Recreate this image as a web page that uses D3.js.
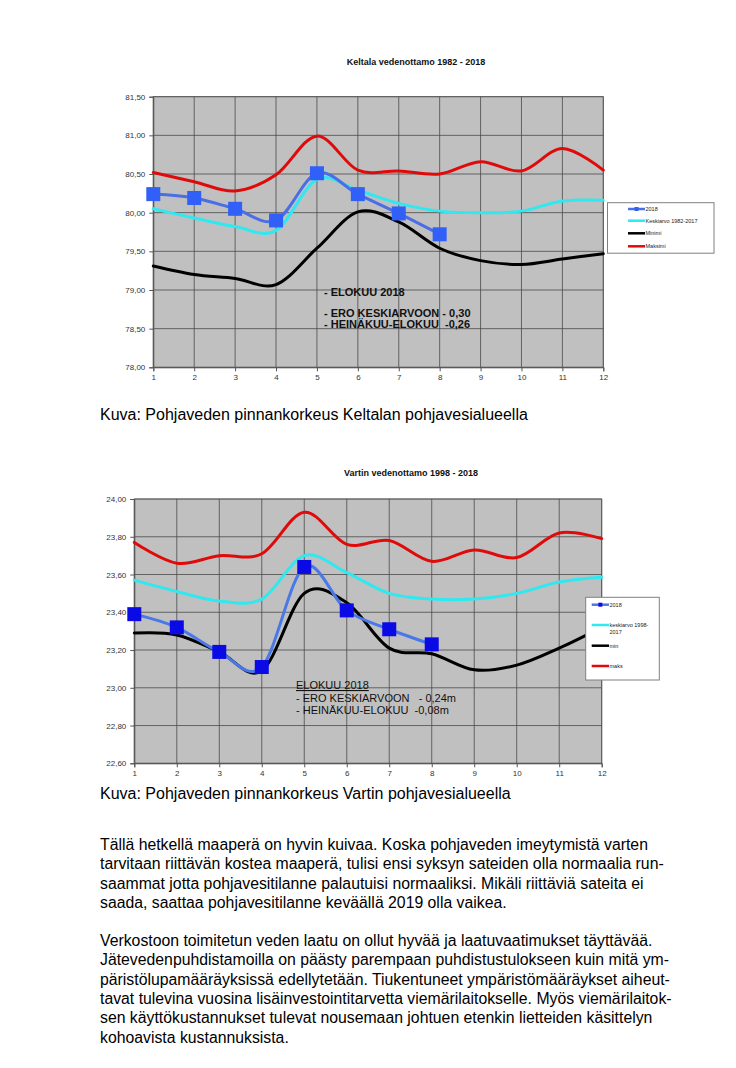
<!DOCTYPE html>
<html>
<head>
<meta charset="utf-8">
<script src="https://cdn.jsdelivr.net/npm/d3@7"></script>
<style>
  html, body { margin: 0; padding: 0; background: #fff; }
  svg { display: block; }
  text { font-family: "Liberation Sans", Arial, sans-serif; white-space: pre; }
</style>
</head>
<body>
<svg id="page" width="736" height="1068"></svg>
<script>
// ---------- DATA ----------
const months = [1,2,3,4,5,6,7,8,9,10,11,12];

// Keltala vedenottamo 1982 - 2018
const keltalaTitle = "Keltala vedenottamo 1982 - 2018";
const keltalaYTicks = [78.0, 78.5, 79.0, 79.5, 80.0, 80.5, 81.0, 81.5];
const keltala2018 = [80.24, 80.19, 80.05, 79.90, 80.51, 80.24, 79.99, 79.72];
const keltalaMean = [80.05, 79.93, 79.82, 79.77, 80.43, 80.29, 80.12, 80.02, 80.00, 80.02, 80.15, 80.16];
const keltalaMin  = [79.31, 79.20, 79.15, 79.07, 79.54, 80.01, 79.88, 79.54, 79.38, 79.33, 79.40, 79.47];
const keltalaMax  = [80.52, 80.40, 80.28, 80.49, 80.99, 80.55, 80.54, 80.50, 80.66, 80.54, 80.83, 80.55];
const keltalaLegend = ["2018", "Keskiarvo 1982-2017", "Minimi", "Maksimi"];
const keltalaNote = ["- ELOKUU 2018", "- ERO KESKIARVOON - 0,30", "- HEINÄKUU-ELOKUU  -0,26"];

// Vartin vedenottamo 1998 - 2018
const vartinTitle = "Vartin vedenottamo 1998 - 2018";
const vartinYTicks = [22.6, 22.8, 23.0, 23.2, 23.4, 23.6, 23.8, 24.0];
const vartin2018 = [23.39, 23.32, 23.19, 23.11, 23.64, 23.41, 23.31, 23.23];
const vartinMean = [23.57, 23.51, 23.46, 23.47, 23.70, 23.61, 23.50, 23.47, 23.47, 23.50, 23.56, 23.585];
const vartinMin  = [23.29, 23.28, 23.19, 23.09, 23.50, 23.45, 23.21, 23.18, 23.095, 23.12, 23.21, 23.32];
const vartinMax  = [23.77, 23.66, 23.70, 23.71, 23.93, 23.76, 23.78, 23.67, 23.73, 23.69, 23.82, 23.79];
const vartinLegend = ["2018", "keskiarvo 1998-|2017", "min", "maks"];
const vartinNote = ["ELOKUU 2018", "- ERO KESKIARVOON   - 0,24m", "- HEINÄKUU-ELOKUU  -0,08m"];

const caption1 = "Kuva: Pohjaveden pinnankorkeus Keltalan pohjavesialueella";
const caption2 = "Kuva: Pohjaveden pinnankorkeus Vartin pohjavesialueella";
const paragraph1 = [
  "Tällä hetkellä maaperä on hyvin kuivaa. Koska pohjaveden imeytymistä varten",
  "tarvitaan riittävän kostea maaperä, tulisi ensi syksyn sateiden olla normaalia run-",
  "saammat jotta pohjavesitilanne palautuisi normaaliksi. Mikäli riittäviä sateita ei",
  "saada, saattaa pohjavesitilanne keväällä 2019 olla vaikea."
];
const paragraph2 = [
  "Verkostoon toimitetun veden laatu on ollut hyvää ja laatuvaatimukset täyttävää.",
  "Jätevedenpuhdistamoilla on päästy parempaan puhdistustulokseen kuin mitä ym-",
  "päristölupamääräyksissä edellytetään. Tiukentuneet ympäristömääräykset aiheut-",
  "tavat tulevina vuosina lisäinvestointitarvetta viemärilaitokselle. Myös viemärilaitok-",
  "sen käyttökustannukset tulevat nousemaan johtuen etenkin lietteiden käsittelyn",
  "kohoavista kustannuksista."
];

// ---------- DRAW ----------
const svg = d3.select("#page");
const fmt = v => d3.format(".2f")(v).replace(".", ",");

function drawChart(cfg) {
  const g = svg.append("g");
  const x = d3.scaleLinear().domain([1, 12]).range([cfg.left, cfg.right]);
  const y = d3.scaleLinear().domain(cfg.domain).range([cfg.bottom, cfg.top]);

  // title
  g.append("text").attr("x", cfg.titleX).attr("y", cfg.titleY)
    .attr("text-anchor", "middle").attr("font-size", 9).attr("font-weight", "bold")
    .attr("fill", "#111").text(cfg.title);

  // plot area
  g.append("rect").attr("x", cfg.left).attr("y", cfg.top)
    .attr("width", cfg.right - cfg.left).attr("height", cfg.bottom - cfg.top)
    .attr("fill", "#c0c0c0").attr("stroke", "#808080").attr("stroke-width", 1);

  // grid
  g.append("g").selectAll("line").data(months).join("line")
    .attr("x1", d => x(d)).attr("x2", d => x(d))
    .attr("y1", cfg.top).attr("y2", cfg.bottom)
    .attr("stroke", "#4a4a4a").attr("stroke-width", 0.8);
  g.append("g").selectAll("line").data(cfg.yTicks).join("line")
    .attr("x1", cfg.left).attr("x2", cfg.right)
    .attr("y1", d => y(d)).attr("y2", d => y(d))
    .attr("stroke", "#4a4a4a").attr("stroke-width", 0.8);

  // axes
  const yAxis = d3.axisLeft(y).tickValues(cfg.yTicks).tickFormat(fmt).tickSize(4).tickPadding(4);
  const ya = g.append("g").attr("transform", `translate(${cfg.left},0)`).call(yAxis);
  const xAxis = d3.axisBottom(x).tickValues(months).tickFormat(d3.format("d")).tickSize(4).tickPadding(3);
  const xa = g.append("g").attr("transform", `translate(0,${cfg.bottom})`).call(xAxis);
  [ya, xa].forEach(a => {
    a.select(".domain").attr("stroke", "#555");
    a.selectAll(".tick line").attr("stroke", "#555");
    a.selectAll(".tick text").attr("font-size", 8).attr("fill", "#333")
      .attr("font-family", "'Liberation Sans', Arial, sans-serif");
  });

  const line = d3.line().x((d, i) => x(months[i])).y(d => y(d))
    .curve(d3.curveCatmullRom.alpha(0));

  const series = [
    { data: cfg.max, color: cfg.colors.max, w: 3 },
    { data: cfg.mean, color: cfg.colors.mean, w: 3 },
    { data: cfg.min, color: cfg.colors.min, w: 3 },
    { data: cfg.y2018, color: cfg.colors.line2018, w: 3 }
  ];
  g.append("g").selectAll("path").data(series).join("path")
    .attr("d", d => line(d.data)).attr("fill", "none")
    .attr("stroke", d => d.color).attr("stroke-width", d => d.w)
    .attr("stroke-linejoin", "round").attr("stroke-linecap", "round");

  // markers
  const ms = cfg.marker;
  g.append("g").selectAll("rect").data(cfg.y2018).join("rect")
    .attr("x", (d, i) => x(months[i]) - ms / 2).attr("y", d => y(d) - ms / 2)
    .attr("width", ms).attr("height", ms).attr("fill", cfg.colors.marker);

  // annotation
  const nt = g.append("g");
  cfg.note.forEach((t, i) => {
    const tx = nt.append("text").attr("x", cfg.noteX).attr("y", cfg.noteY[i])
      .attr("font-size", cfg.noteSize).attr("font-weight", cfg.noteWeight)
      .attr("fill", "#111").attr("xml:space", "preserve").text(t);
    if (cfg.noteUnderline && i === 0) tx.attr("text-decoration", "underline");
  });

  // legend
  const L = cfg.legend;
  const lg = g.append("g");
  lg.append("rect").attr("x", L.x).attr("y", L.y).attr("width", L.w).attr("height", L.h)
    .attr("fill", "#fff").attr("stroke", "#808080").attr("stroke-width", 1);
  const lcolors = [cfg.colors.line2018, cfg.colors.mean, cfg.colors.min, cfg.colors.max];
  cfg.legendLabels.forEach((lab, i) => {
    const yy = L.items[i];
    lg.append("line").attr("x1", L.lx1).attr("x2", L.lx2).attr("y1", yy).attr("y2", yy)
      .attr("stroke", lcolors[i]).attr("stroke-width", 2.5);
    if (i === 0) {
      lg.append("rect").attr("x", (L.lx1 + L.lx2) / 2 - 2).attr("y", yy - 2)
        .attr("width", 4).attr("height", 4).attr("fill", cfg.colors.marker);
    }
    const parts = lab.split("|");
    parts.forEach((p, j) => {
      lg.append("text").attr("x", L.lx2 + 0.5).attr("y", yy + 2 + j * 7)
        .attr("font-size", 5.5).attr("fill", "#222").text(p);
    });
  });
}

drawChart({
  title: keltalaTitle, titleX: 416, titleY: 64.5,
  left: 153.3, right: 603.3, top: 96.7, bottom: 367.3,
  domain: [78, 81.5], yTicks: keltalaYTicks,
  y2018: keltala2018, mean: keltalaMean, min: keltalaMin, max: keltalaMax,
  colors: { line2018: "#4a6ee6", marker: "#3060f8", mean: "#30e8f0", min: "#000000", max: "#e00a0a" },
  marker: 14,
  note: keltalaNote, noteX: 324, noteY: [296, 316.5, 328], noteSize: 11, noteWeight: "bold", noteUnderline: false,
  legend: { x: 607.5, y: 202.7, w: 106.5, h: 50.5, lx1: 628, lx2: 645, items: [209, 220.7, 233.3, 246.3] },
  legendLabels: keltalaLegend
});

drawChart({
  title: vartinTitle, titleX: 411, titleY: 475.5,
  left: 134.3, right: 601.7, top: 499, bottom: 763.3,
  domain: [22.6, 24], yTicks: vartinYTicks,
  y2018: vartin2018, mean: vartinMean, min: vartinMin, max: vartinMax,
  colors: { line2018: "#4a78e8", marker: "#0a0ae6", mean: "#30e8f0", min: "#000000", max: "#e00a0a" },
  marker: 14,
  note: vartinNote, noteX: 296, noteY: [689, 701.5, 713.5], noteSize: 11, noteWeight: "normal", noteUnderline: true,
  legend: { x: 585.7, y: 597.3, w: 73.6, h: 82.7, lx1: 591.7, lx2: 609, items: [604.7, 625, 645.7, 666] },
  legendLabels: vartinLegend
});

// captions
svg.append("text").attr("x", 100).attr("y", 419.5).attr("font-size", 16).attr("fill", "#000").text(caption1);
svg.append("text").attr("x", 100).attr("y", 798.5).attr("font-size", 16).attr("fill", "#000").text(caption2);

// body paragraphs
const bodyG = svg.append("g");
paragraph1.forEach((t, i) => {
  bodyG.append("text").attr("x", 100).attr("y", 850 + i * 19.3).attr("font-size", 15.8).attr("fill", "#000").text(t);
});
paragraph2.forEach((t, i) => {
  bodyG.append("text").attr("x", 100).attr("y", 946 + i * 19.3).attr("font-size", 15.8).attr("fill", "#000").text(t);
});
</script>
</body>
</html>
